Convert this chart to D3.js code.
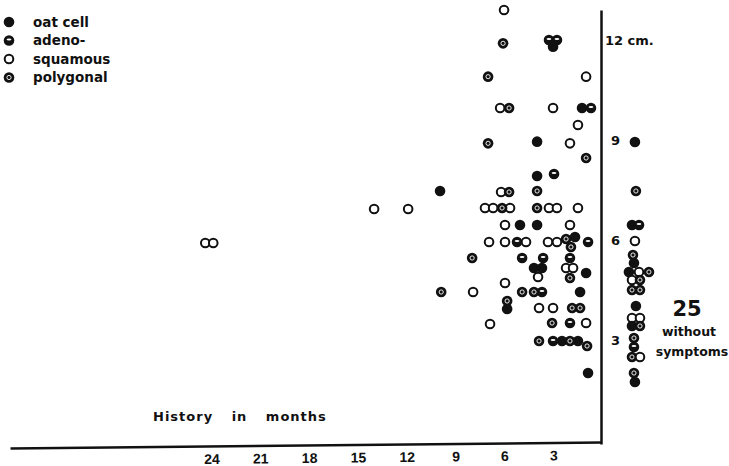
<!DOCTYPE html>
<html>
<head>
<meta charset="utf-8">
<script src="https://cdn.jsdelivr.net/npm/d3@7"></script>
<style>
  body { margin: 0; background: #fff; }
  text { fill: #111; }
</style>
</head>
<body>
<div class="canvas"></div>
<script>
// values are [history in months, size in cm]
const oatCell = [[3.13,11.8],[1.35,9.96],[4.11,8.95],[4.11,7.92],[10.07,7.47],[5.16,6.45],[4.11,6.45],
  [1.78,6.09],[4.30,5.16],[3.81,5.16],[1.10,5.01],[1.47,4.44],[5.95,3.93],[2.58,2.97],[1.60,2.97],[0.98,2.01]];
const adeno = [[3.38,12.0],[2.89,12.0],[0.80,9.96],[3.07,7.98],[5.34,5.94],[0.98,5.94],[5.03,5.46],
  [3.74,5.46],[2.09,5.46],[3.81,4.44],[2.09,3.51],[3.13,2.97]];
const squamous = [[6.14,12.9],[1.10,10.9],[6.38,9.96],[3.13,9.96],[1.60,9.45],[2.09,8.9],[6.32,7.44],
  [7.31,6.96],[6.81,6.96],[5.77,6.96],[3.38,6.96],[2.89,6.96],[1.60,6.96],[14.12,6.93],[12.03,6.93],
  [6.08,6.45],[2.09,6.45],[7.06,5.94],[6.08,5.94],[4.79,5.94],[3.44,5.94],[2.89,5.94],[24.49,5.91],
  [24.0,5.91],[4.05,4.89],[2.33,5.16],[1.90,5.16],[8.04,4.44],[6.08,4.71],[3.99,3.96],[3.13,3.96],
  [7.0,3.48],[1.10,3.51]];
const polygonal = [[6.2,11.9],[7.12,10.9],[5.83,9.96],[7.12,8.9],[1.10,8.46],[5.83,7.44],[4.11,7.47],
  [6.26,6.96],[4.11,6.96],[2.33,6.03],[2.03,5.79],[8.10,5.46],[2.09,4.86],[10.0,4.44],[5.03,4.44],
  [4.30,4.44],[5.95,4.17],[1.96,3.96],[1.47,3.96],[3.19,3.51],[3.99,2.97],[2.09,2.97],[1.04,2.82]];

// the 25 cases without symptoms sit in their own column right of the axis (offset in month units)
const withoutSymptoms = [[-1.90,8.94,'oat'],[-1.96,7.47,'poly'],[-1.72,6.45,'oat'],[-2.15,6.45,'adeno'],
  [-1.90,5.97,'squam'],[-1.78,5.55,'poly'],[-1.84,5.31,'oat'],[-1.53,5.04,'oat'],[-2.15,5.04,'squam'],
  [-2.76,5.04,'poly'],[-1.72,4.80,'squam'],[-2.21,4.80,'poly'],[-1.72,4.50,'poly'],[-2.21,4.50,'poly'],
  [-1.96,4.02,'oat'],[-1.72,3.66,'squam'],[-2.21,3.66,'squam'],[-1.72,3.42,'oat'],[-2.21,3.42,'poly'],
  [-1.84,3.06,'poly'],[-1.84,2.79,'adeno'],[-1.72,2.49,'poly'],[-2.21,2.49,'squam'],[-1.84,2.01,'poly'],
  [-1.90,1.74,'oat']];

const monthTicks = [24, 21, 18, 15, 12, 9, 6, 3];
const sizeTicks = [3, 6, 9, 12];
const legendItems = [['oat', 'oat cell'], ['adeno', 'adeno-'], ['squam', 'squamous'], ['poly', 'polygonal']];

const width = 729, height = 466;
const svg = d3.select('.canvas')
  .append('svg')
  .attr('width', width)
  .attr('height', height);

const x = d3.scaleLinear().domain([0, 36.3]).range([604, 13]);
const y = d3.scaleLinear().domain([-0.12, 12.9]).range([444, 10]);

// axes (the page is a little tilted, so the bottom axis drops slightly to the left)
const xAxisGroup = svg.append('g')
  .attr('transform', `rotate(-0.58, 601, 442) translate(-3, 442)`);
xAxisGroup.call(d3.axisBottom(x).tickValues(monthTicks).tickSize(0).tickPadding(8));
xAxisGroup.select('.domain').attr('stroke', '#111').attr('stroke-width', 2.5);
xAxisGroup.selectAll('text')
  .attr('font-family', '"Liberation Sans Narrow", "Arial Narrow", sans-serif')
  .attr('font-weight', 'bold')
  .attr('font-size', 14)
  .attr('fill', '#111')
  .attr('dx', 1);

const yAxisGroup = svg.append('g').attr('transform', 'translate(601, 0)');
yAxisGroup.call(d3.axisRight(y).tickValues(sizeTicks).tickSize(0).tickPadding(8)
  .tickFormat(d => d === 12 ? '12 cm.' : d));
yAxisGroup.select('.domain').attr('stroke', '#111').attr('stroke-width', 2.5);
yAxisGroup.selectAll('text')
  .attr('font-family', '"DejaVu Sans", sans-serif')
  .attr('font-weight', 'bold')
  .attr('font-size', 13)
  .attr('fill', '#111')
  .attr('x', d => d === 12 ? 4 : 10);

// marks
function drawMark(g, type) {
  if (type === 'squam') {
    g.append('circle').attr('r', 4.3).attr('fill', '#fff').attr('stroke', '#111').attr('stroke-width', 2);
  } else {
    g.append('circle').attr('r', 5.3).attr('fill', '#111');
    if (type === 'adeno') {
      g.append('ellipse').attr('cy', -1).attr('rx', 2.4).attr('ry', 1).attr('fill', '#fff');
    } else if (type === 'poly') {
      g.append('circle').attr('r', 2.1).attr('fill', 'none').attr('stroke', '#fff').attr('stroke-width', 0.9);
    }
  }
}

const series = [['oat', oatCell], ['adeno', adeno], ['squam', squamous], ['poly', polygonal]];
series.forEach(([type, data]) => {
  svg.append('g').selectAll('g')
    .data(data)
    .enter()
    .append('g')
      .attr('transform', d => `translate(${x(d[0])}, ${y(d[1])})`)
      .each(function() { drawMark(d3.select(this), type); });
});

svg.append('g').selectAll('g')
  .data(withoutSymptoms)
  .enter()
  .append('g')
    .attr('transform', d => `translate(${x(d[0])}, ${y(d[1])})`)
    .each(function(d) { drawMark(d3.select(this), d[2]); });

// legend
const legend = svg.append('g').attr('transform', 'translate(9, 22)');
legendItems.forEach(([type, label], i) => {
  const row = legend.append('g').attr('transform', `translate(0, ${i * 18.5})`);
  drawMark(row, type);
  row.append('text')
    .attr('x', 24).attr('y', 4.5)
    .attr('font-family', '"DejaVu Sans", sans-serif')
    .attr('font-weight', 'bold')
    .attr('font-size', 13.5)
    .text(label);
});

// labels
svg.append('text')
  .attr('x', 153).attr('y', 421)
  .attr('font-family', '"DejaVu Sans", sans-serif')
  .attr('font-weight', 'bold')
  .attr('font-size', 13)
  .attr('letter-spacing', 1)
  .attr('word-spacing', 13)
  .text('History in months');

const side = svg.append('g')
  .attr('font-family', '"DejaVu Sans", sans-serif')
  .attr('font-weight', 'bold')
  .attr('text-anchor', 'middle');
side.append('text').attr('x', 687).attr('y', 316).attr('font-size', 21).text('25');
side.append('text').attr('x', 689).attr('y', 336).attr('font-size', 12.5).text('without');
side.append('text').attr('x', 692).attr('y', 356).attr('font-size', 12.5).text('symptoms');
</script>
</body>
</html>
